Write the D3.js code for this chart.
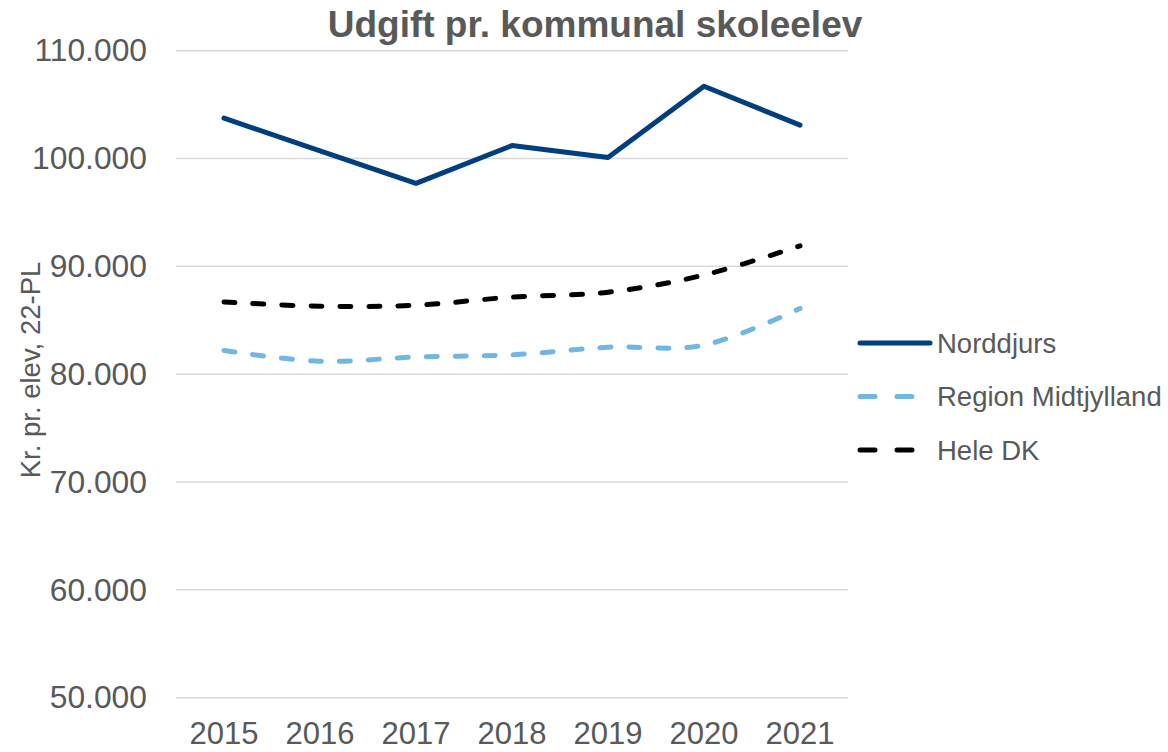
<!DOCTYPE html>
<html>
<head>
<meta charset="utf-8">
<script src="https://cdn.jsdelivr.net/npm/d3@7"></script>
<style>
  body { margin: 0; background: #fff; }
  text { font-family: "Liberation Sans", Arial, sans-serif; fill: #595959; }
</style>
</head>
<body>
<svg id="chart" width="1168" height="752"></svg>
<script>
const years = ["2015", "2016", "2017", "2018", "2019", "2020", "2021"];
const norddjurs = [103750, 100700, 97700, 101200, 100100, 106700, 103100];
const regionMidt = [82200, 81200, 81600, 81800, 82500, 82700, 86100];
const heleDK = [86700, 86300, 86400, 87150, 87600, 89200, 91900];
const yTicks = [50000, 60000, 70000, 80000, 90000, 100000, 110000];

const series = [
  {name: "Norddjurs", values: norddjurs, color: "#003f7d", dash: null, legendDash: null, curve: d3.curveLinear},
  {name: "Region Midtjylland", values: regionMidt, color: "#70b8e2", dash: "11,18", legendDash: "15,22", curve: d3.curveCardinal.tension(0)},
  {name: "Hele DK", values: heleDK, color: "#000000", dash: "11,18", legendDash: "15,22", curve: d3.curveCardinal.tension(0)}
];

const svg = d3.select("#chart");
const plotLeft = 176, plotRight = 848, plotTop = 50.7, plotBottom = 697.7;

const x = d3.scaleBand().domain(years).range([plotLeft, plotRight]);
const y = d3.scaleLinear().domain([50000, 110000]).range([plotBottom, plotTop]);

const locale = d3.formatLocale({decimal: ",", thousands: ".", grouping: [3], currency: ["", " kr."]});
const fmt = locale.format(",.0f");

// gridlines
svg.append("g")
  .selectAll("line")
  .data(yTicks)
  .enter().append("line")
  .attr("x1", plotLeft).attr("x2", plotRight)
  .attr("y1", d => y(d)).attr("y2", d => y(d))
  .attr("stroke", "#d9d9d9")
  .attr("stroke-width", 1.5);

// y axis labels
const yAxis = svg.append("g")
  .attr("transform", `translate(${plotLeft - 29},0)`)
  .call(d3.axisLeft(y).tickValues(yTicks).tickFormat(fmt).tickSize(0).tickPadding(0));
yAxis.select(".domain").remove();
yAxis.selectAll("text")
  .attr("font-size", "31.8px")
  .attr("font-family", "Liberation Sans, Arial, sans-serif")
  .attr("fill", "#595959");

// x axis labels
const xAxis = svg.append("g")
  .attr("transform", `translate(0,${plotBottom + 24})`)
  .call(d3.axisBottom(x).tickSize(0).tickPadding(0));
xAxis.select(".domain").remove();
xAxis.selectAll("text")
  .attr("font-size", "31px")
  .attr("font-family", "Liberation Sans, Arial, sans-serif")
  .attr("fill", "#595959");

// lines
series.forEach(s => {
  const line = d3.line()
    .x((d, i) => x(years[i]) + x.bandwidth() / 2)
    .y(d => y(d))
    .curve(s.curve);
  svg.append("path")
    .datum(s.values)
    .attr("d", line)
    .attr("fill", "none")
    .attr("stroke", s.color)
    .attr("stroke-width", 5)
    .attr("stroke-linecap", "round")
    .attr("stroke-linejoin", "round")
    .attr("stroke-dasharray", s.dash);
});

// title
svg.append("text")
  .attr("x", 595)
  .attr("y", 37)
  .attr("text-anchor", "middle")
  .attr("font-size", "37px")
  .attr("font-weight", "bold")
  .text("Udgift pr. kommunal skoleelev");

// y axis title
svg.append("text")
  .attr("transform", "translate(40,370) rotate(-90)")
  .attr("text-anchor", "middle")
  .attr("font-size", "27.5px")
  .text("Kr. pr. elev, 22-PL");

// legend
const legend = svg.append("g")
  .selectAll("g")
  .data(series)
  .enter().append("g")
  .attr("transform", (d, i) => `translate(860,${343 + i * 53.5})`);
legend.append("line")
  .attr("x1", 0).attr("x2", 70)
  .attr("stroke", d => d.color)
  .attr("stroke-width", 5)
  .attr("stroke-linecap", "round")
  .attr("stroke-dasharray", d => d.legendDash);
legend.append("text")
  .attr("x", 77)
  .attr("dy", "0.35em")
  .attr("font-size", "27.5px")
  .text(d => d.name);
</script>
</body>
</html>
